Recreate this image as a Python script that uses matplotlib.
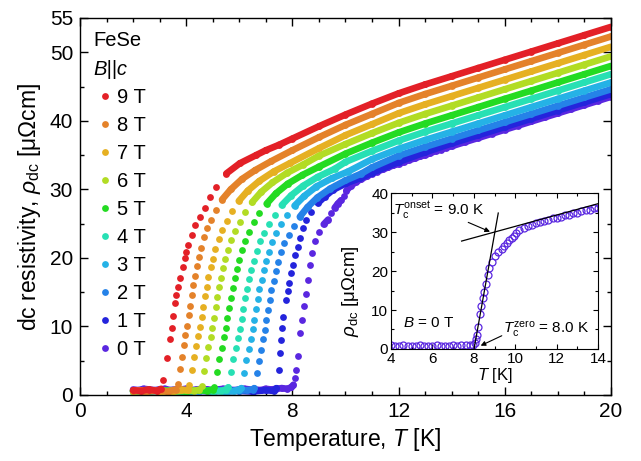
import numpy as np
import matplotlib
matplotlib.use('Agg')
import matplotlib.pyplot as plt
from matplotlib.collections import LineCollection
from matplotlib.ticker import MultipleLocator

plt.rcParams['font.family'] = ['Liberation Sans', 'DejaVu Sans']
plt.rcParams['mathtext.fontset'] = 'custom'
plt.rcParams['mathtext.rm'] = 'Liberation Sans'
plt.rcParams['mathtext.it'] = 'Liberation Sans:italic'

# rho_dc (uOhm cm) vs T (K), one curve per field
T9 = [2.0, 2.3, 2.6, 2.9, 3.05, 3.13, 3.26, 3.38, 3.47, 3.51, 3.57, 3.63, 3.70, 3.76, 3.88, 3.95, 4.01, 4.07,
      4.20, 4.32, 4.51, 4.70, 4.89, 5.14, 5.51, 6.02, 6.64, 7.0, 7.5, 8, 9, 10, 11, 12, 13, 14, 15, 16, 17, 18, 19, 20]
R9 = [0.7, 0.6, 0.8, 0.6, 0.9, 2.2, 5.4, 8.2, 9.7, 11.5, 13.4, 14.6, 15.8, 17.1, 18.7, 20.0, 20.9, 21.9,
      23.3, 24.8, 26.0, 27.3, 28.9, 30.4, 32.3, 33.8, 35.0, 35.7, 36.5, 37.4, 39.2, 40.9, 42.5, 44.0, 45.3, 46.5,
      47.7, 48.9, 50.1, 51.3, 52.5, 53.7]

T8 = [2.0, 2.5, 3.0, 3.3, 3.6, 3.70, 3.78, 3.84, 3.90, 3.97, 4.03, 4.09, 4.14, 4.20, 4.26, 4.33, 4.40, 4.48,
      4.57, 4.68, 4.80, 4.95, 5.12, 5.35, 5.68, 6.10, 6.60, 7.2, 8, 9, 10, 11, 12, 13, 14, 15, 16, 17, 18, 19, 20]
R8 = [0.6, 0.5, 0.7, 0.5, 0.8, 1.6, 3.8, 5.6, 7.3, 8.8, 10.0, 11.6, 13.0, 14.6, 16.0, 17.4, 18.8, 20.1,
      21.5, 23.0, 24.3, 25.6, 27.0, 28.5, 30.0, 31.5, 32.8, 34.1, 35.7, 37.6, 39.4, 41.0, 42.6, 43.9, 45.1, 46.3,
      47.5, 48.7, 49.9, 51.1, 52.3]

T7 = [2.0, 2.5, 3.0, 3.5, 3.8, 4.05, 4.12, 4.22, 4.30, 4.38, 4.46, 4.53, 4.58, 4.64, 4.70, 4.77, 4.84, 4.92,
      5.00, 5.10, 5.22, 5.35, 5.52, 5.72, 5.98, 6.32, 6.75, 7.3, 7.9, 9, 10, 11, 12, 13, 14, 15, 16, 17, 18, 19, 20]
R7 = [0.6, 0.7, 0.5, 0.6, 0.8, 0.7, 1.4, 3.6, 5.5, 7.2, 8.6, 9.9, 11.4, 12.9, 14.4, 15.8, 17.2, 18.6,
      19.9, 21.3, 22.7, 24.0, 25.4, 26.8, 28.3, 29.8, 31.2, 32.6, 33.8, 36.0, 37.9, 39.5, 41.1, 42.4, 43.6, 44.8,
      46.0, 47.2, 48.4, 49.6, 50.8]

T6 = [2.0, 2.5, 3.0, 3.5, 4.0, 4.3, 4.5, 4.58, 4.68, 4.76, 4.84, 4.92, 4.99, 5.05, 5.11, 5.17, 5.24, 5.31,
      5.39, 5.48, 5.58, 5.70, 5.84, 6.01, 6.22, 6.48, 6.82, 7.25, 7.8, 8.4, 9, 10, 11, 12, 13, 14, 15, 16, 17,
      18, 19, 20]
R6 = [0.5, 0.7, 0.6, 0.5, 0.7, 0.6, 0.8, 1.3, 3.5, 5.4, 7.0, 8.5, 9.8, 11.3, 12.8, 14.3, 15.7, 17.1,
      18.5, 19.8, 21.2, 22.6, 23.9, 25.3, 26.7, 28.1, 29.6, 31.0, 32.4, 33.6, 34.9, 36.6, 38.2, 39.7, 41.0, 42.2,
      43.4, 44.6, 45.8, 47.0, 48.2, 49.4]

T5 = [2.0, 2.5, 3.0, 3.5, 4.0, 4.5, 4.8, 5.0, 5.06, 5.16, 5.25, 5.33, 5.42, 5.49, 5.55, 5.61, 5.68, 5.75,
      5.82, 5.90, 5.99, 6.10, 6.22, 6.37, 6.55, 6.76, 7.03, 7.38, 7.82, 8.38, 9.0, 10, 11, 12, 13, 14, 15, 16,
      17, 18, 19, 20]
R5 = [0.6, 0.5, 0.7, 0.6, 0.5, 0.7, 0.6, 0.8, 1.2, 3.4, 5.3, 6.9, 8.4, 9.7, 11.2, 12.7, 14.2, 15.6,
      17.0, 18.4, 19.7, 21.1, 22.5, 23.8, 25.2, 26.5, 27.9, 29.4, 30.8, 32.1, 33.3, 35.2, 36.8, 38.3, 39.6, 40.8,
      42.0, 43.2, 44.4, 45.6, 46.8, 48.0]

T4 = [2.0, 2.5, 3.0, 3.5, 4.0, 4.5, 5.0, 5.3, 5.5, 5.58, 5.68, 5.78, 5.87, 5.96, 6.03, 6.09, 6.15, 6.22,
      6.29, 6.37, 6.45, 6.54, 6.65, 6.78, 6.93, 7.11, 7.33, 7.60, 7.95, 8.40, 8.95, 9.6, 10, 11, 12, 13, 14, 15,
      16, 17, 18, 19, 20]
R4 = [0.5, 0.6, 0.7, 0.5, 0.6, 0.7, 0.5, 0.6, 0.8, 1.1, 3.3, 5.2, 6.8, 8.3, 9.6, 11.1, 12.6, 14.1,
      15.5, 16.9, 18.3, 19.6, 21.0, 22.4, 23.7, 25.0, 26.3, 27.7, 29.1, 30.5, 31.8, 33.0, 34.0, 35.6, 37.1, 38.4,
      39.6, 40.8, 42.0, 43.2, 44.4, 45.6, 46.8]

T3 = [2.0, 2.5, 3.0, 3.5, 4.0, 4.5, 5.0, 5.5, 5.8, 6.0, 6.08, 6.18, 6.27, 6.35, 6.44, 6.50, 6.56, 6.62,
      6.69, 6.76, 6.84, 6.92, 7.01, 7.12, 7.25, 7.40, 7.58, 7.80, 8.08, 8.44, 8.90, 9.48, 10.1, 11, 12, 13, 14,
      15, 16, 17, 18, 19, 20]
R3 = [0.6, 0.5, 0.6, 0.7, 0.5, 0.6, 0.7, 0.5, 0.6, 0.8, 1.0, 3.2, 5.1, 6.7, 8.2, 9.6, 11.0, 12.5,
      14.0, 15.4, 16.8, 18.2, 19.5, 20.9, 22.3, 23.6, 24.9, 26.2, 27.6, 29.0, 30.4, 31.6, 32.6, 34.4, 35.9, 37.2,
      38.4, 39.6, 40.8, 42.0, 43.2, 44.4, 45.6]

T2 = [2.0, 2.5, 3.0, 3.5, 4.0, 4.5, 5.0, 5.5, 6.0, 6.3, 6.5, 6.56, 6.66, 6.74, 6.81, 6.89, 6.95, 7.01,
      7.07, 7.14, 7.21, 7.29, 7.37, 7.46, 7.57, 7.70, 7.86, 8.05, 8.28, 8.57, 8.94, 9.42, 10.0, 10.6, 11, 12, 13,
      14, 15, 16, 17, 18, 19, 20]
R2 = [0.5, 0.6, 0.7, 0.6, 0.5, 0.6, 0.7, 0.5, 0.6, 0.7, 0.8, 1.0, 3.2, 5.0, 6.6, 8.1, 9.5, 11.0,
      12.4, 13.9, 15.3, 16.7, 18.1, 19.4, 20.8, 22.1, 23.4, 24.7, 26.0, 27.4, 28.8, 30.1, 31.3, 32.3, 33.2, 34.9,
      36.2, 37.4, 38.6, 39.8, 41.0, 42.2, 43.4, 44.6]

T1 = [2.0, 2.5, 3.0, 3.5, 4.0, 4.5, 5.0, 5.5, 6.0, 6.5, 7.0, 7.3, 7.40, 7.49, 7.54, 7.58, 7.62, 7.66,
      7.77, 7.83, 7.89, 7.96, 8.02, 8.08, 8.21, 8.27, 8.40, 8.52, 8.71, 8.96, 9.21, 9.52, 10.03, 10.53, 11.0,
      12, 13, 14, 15, 16, 17, 18, 19, 20]
R1 = [0.6, 0.5, 0.6, 0.7, 0.5, 0.6, 0.5, 0.7, 0.6, 0.5, 0.7, 0.6, 1.0, 3.6, 6.1, 8.0, 9.7, 11.4,
      13.9, 15.1, 16.3, 17.8, 19.0, 20.4, 21.6, 22.9, 24.3, 25.5, 26.7, 28.0, 28.9, 29.9, 30.9, 31.6, 32.4,
      34.0, 35.4, 36.7, 37.9, 39.1, 40.3, 41.5, 42.7, 43.9]

T0 = [2.0, 2.2, 2.4, 2.6, 2.8, 3.0, 3.2, 3.4, 3.6, 3.8, 4.0, 4.2, 4.4, 4.6, 4.8, 5.0, 5.2, 5.4, 5.6, 5.8,
      6.0, 6.2, 6.4, 6.6, 6.8, 7.0, 7.2, 7.4, 7.6, 7.8, 7.95,
      8.04, 8.09, 8.14, 8.22, 8.30, 8.35, 8.43, 8.51, 8.59, 8.67, 8.75, 8.86, 9.02, 9.18, 9.35, 9.47, 9.59,
      9.71, 9.83, 9.93, 10.03,
      10.2, 10.4, 10.6, 10.8, 11.0, 11.2, 11.4, 11.6, 11.8, 12.0, 12.2, 12.4, 12.6, 12.8, 13.0, 13.2, 13.4,
      13.6, 13.8, 14.0, 14.5, 15.0, 15.5, 16.0, 16.5, 17.0, 17.5, 18.0, 18.5, 19.0, 19.5, 20.0]
R0 = [0.8, 0.7, 0.9, 0.8, 0.7, 0.8, 0.9, 0.7, 0.8, 0.8, 0.9, 0.7, 0.8, 0.9, 0.8, 0.7, 0.8, 0.9, 0.8, 0.7,
      0.8, 0.9, 0.8, 0.8, 0.7, 0.9, 0.8, 0.9, 1.0, 0.9, 1.1,
      1.5, 2.5, 3.6, 5.7, 9.1, 11.0, 13.0, 14.7, 16.8, 19.0, 20.7, 22.4, 23.8, 24.9, 25.6, 26.5, 27.3,
      27.9, 28.4, 29.1, 29.8,
      30.5, 31.1, 31.5, 31.9, 32.3, 32.6, 32.9, 33.2, 33.5, 33.7, 34.0, 34.3, 34.5, 34.8, 35.0, 35.3, 35.6,
      35.8, 36.1, 36.3, 36.9, 37.5, 38.1, 38.7, 39.3, 39.9, 40.5, 41.1, 41.7, 42.3, 42.9, 43.5]

temps = [T0, T1, T2, T3, T4, T5, T6, T7, T8, T9]
rhos = [R0, R1, R2, R3, R4, R5, R6, R7, R8, R9]
labels = ['0 T', '1 T', '2 T', '3 T', '4 T', '5 T', '6 T', '7 T', '8 T', '9 T']
colors = ['#5a27e0', '#2424dc', '#2582e8', '#25b2e6', '#27e0b4',
          '#24db22', '#b2dc24', '#e6b022', '#e4822a', '#e32027']

# hand-drawn construction lines of the inset
onset_T = [7.41, 14.0]
onset_R = [27.7, 37.3]
steep_T = [8.01, 9.18]
steep_R = [0.0, 34.9]


def draw_curve(ax, T, R, color, label):
    T = np.asarray(T, float)
    R = np.asarray(R, float)
    slope = np.abs(np.diff(R) / np.diff(T))
    # dense parts of the sweep look like a solid band
    segs = [[(T[i], R[i]), (T[i + 1], R[i + 1])] for i in range(len(T) - 1) if slope[i] < 5]
    ax.add_collection(LineCollection(segs, colors=color, linewidths=4.8, capstyle='round'))
    line, = ax.plot(T, R, 'o', ms=4.9, color=color, mec='none', label=label)
    return line


fig = plt.figure(figsize=(6.41, 4.61), dpi=100)
ax = fig.add_axes([0.1248, 0.1432, 0.8284, 0.8178])

handles = []
for T, R, c, lab in zip(temps, rhos, colors, labels):
    handles.append(draw_curve(ax, T, R, c, lab))

ax.set_xlim(0, 20)
ax.set_ylim(0, 55)
ax.set_xticks([0, 4, 8, 12, 16, 20])
ax.xaxis.set_minor_locator(MultipleLocator(1))
ax.set_yticks([0, 10, 20, 30, 40, 50, 55])
ax.set_yticks([5, 15, 25, 35, 45], minor=True)
ax.tick_params(which='both', direction='in', top=True, right=True, labelsize=15, pad=5, width=1)
ax.tick_params(which='major', length=5.5)
ax.tick_params(which='minor', length=3)
for s in ax.spines.values():
    s.set_linewidth(1.0)
ax.set_xlabel('Temperature, $T$ [K]', fontsize=16.5, labelpad=4)
ax.set_ylabel(r'dc resistivity, $\rho_\mathrm{dc}$ [μΩcm]', fontsize=16.5, labelpad=5)

ax.text(0.025, 0.926, 'FeSe', transform=ax.transAxes, fontsize=14.5)
ax.text(0.025, 0.849, 'B||c', transform=ax.transAxes, fontsize=14.5, style='italic')
ax.legend(handles[::-1], labels[::-1], loc='upper left', bbox_to_anchor=(0.036, 0.815),
          frameon=False, fontsize=14.5, borderpad=0, borderaxespad=0, handlelength=0.6,
          handletextpad=0.3, labelspacing=0.45, markerscale=1.0)

# inset: zero-field transition
axins = fig.add_axes([0.610, 0.243, 0.323, 0.338])
axins.plot(T0, R0, 'o', ms=5, mfc='none', mec=colors[0], mew=0.9)
axins.plot(onset_T, onset_R, color='black', lw=0.9)
axins.plot(steep_T, steep_R, color='black', lw=0.9)
axins.set_xlim(4, 14)
axins.set_ylim(0, 40)
axins.set_xticks([4, 6, 8, 10, 12, 14])
axins.xaxis.set_minor_locator(MultipleLocator(1))
axins.set_yticks([0, 10, 20, 30, 40])
axins.yaxis.set_minor_locator(MultipleLocator(5))
axins.tick_params(which='both', direction='in', top=True, right=True, labelsize=11, pad=2, width=0.8)
axins.tick_params(which='major', length=3.5)
axins.tick_params(which='minor', length=2)
for s in axins.spines.values():
    s.set_linewidth(0.8)
axins.set_xlabel('$T$ [K]', fontsize=12, labelpad=0)
axins.set_ylabel(r'$\rho_\mathrm{dc}$ [μΩcm]', fontsize=13.5)
axins.yaxis.set_label_coords(-0.145, 0.37)

axins.text(4.1, 34.5, r'$T_\mathrm{c}^\mathrm{onset}$ = 9.0 K', fontsize=11)
axins.annotate('', xy=(8.78, 30.1), xytext=(7.73, 32.5),
               arrowprops=dict(arrowstyle='-|>', lw=0.8, color='black', mutation_scale=7,
                               shrinkA=0, shrinkB=0))
axins.text(13.55, 4.2, r'$T_\mathrm{c}^\mathrm{zero}$ = 8.0 K', fontsize=11, ha='right')
axins.annotate('', xy=(8.33, 0.85), xytext=(9.35, 3.4),
               arrowprops=dict(arrowstyle='-|>', lw=0.8, color='black', mutation_scale=7,
                               shrinkA=0, shrinkB=0))
axins.text(4.6, 5.6, '$B$ = 0 T', fontsize=11)

fig.savefig('out.png', dpi=100)
